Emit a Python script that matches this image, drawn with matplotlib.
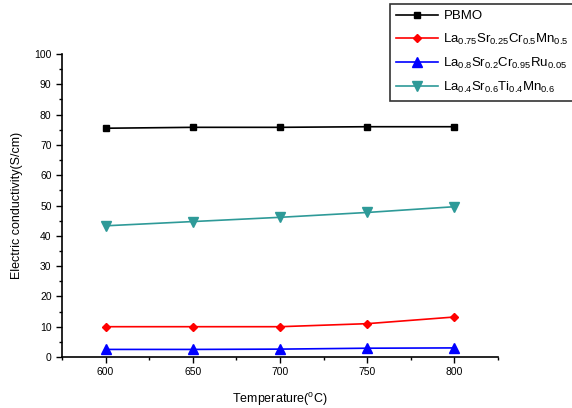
import matplotlib
matplotlib.use("Agg")
import matplotlib.pyplot as plt
from matplotlib.ticker import MultipleLocator

plt.rcParams['font.family'] = ['Liberation Sans', 'DejaVu Sans']
plt.rcParams['mathtext.fontset'] = 'custom'
plt.rcParams['mathtext.rm'] = 'Liberation Sans'
plt.rcParams['mathtext.it'] = 'Liberation Sans'

temperature = [600, 650, 700, 750, 800]
pbmo = [75.5, 75.8, 75.8, 76.0, 76.0]
lscm = [10.0, 10.0, 10.0, 11.0, 13.2]
lscr = [2.5, 2.5, 2.6, 2.9, 3.0]
lstm = [43.3, 44.7, 46.1, 47.7, 49.6]
labels = ['PBMO',
          'La$_{0.75}$Sr$_{0.25}$Cr$_{0.5}$Mn$_{0.5}$',
          'La$_{0.8}$Sr$_{0.2}$Cr$_{0.95}$Ru$_{0.05}$',
          'La$_{0.4}$Sr$_{0.6}$Ti$_{0.4}$Mn$_{0.6}$']

fig = plt.figure(figsize=(5.72, 4.08), dpi=100)
ax = fig.add_axes([62/572, 1-357/408, (498-62)/572, (357-54)/408])

ax.plot(temperature, pbmo, color='black', marker='s', ms=5, lw=1.2, label=labels[0])
ax.plot(temperature, lscm, color='red', marker='D', ms=4.5, lw=1.2, label=labels[1])
ax.plot(temperature, lscr, color='blue', marker='^', ms=6.5, lw=1.2, label=labels[2])
ax.plot(temperature, lstm, color='#2e9a98', marker='v', ms=6.5, lw=1.2, label=labels[3])

ax.set_xlim(575, 825)
ax.set_ylim(0, 100)
ax.xaxis.set_major_locator(MultipleLocator(50))
ax.xaxis.set_minor_locator(MultipleLocator(25))
ax.yaxis.set_major_locator(MultipleLocator(10))
ax.yaxis.set_minor_locator(MultipleLocator(5))
for s in ['top', 'right']:
    ax.spines[s].set_visible(False)
for s in ['left', 'bottom']:
    ax.spines[s].set_linewidth(1.2)
ax.tick_params(which='major', direction='out', length=4, width=1, labelsize=7.5, colors='black')
ax.tick_params(which='minor', direction='out', length=2.5, width=1)
ax.set_xlabel('Temperature($^{\\mathrm{o}}$C)', fontsize=9, labelpad=10)
ax.set_ylabel('Electric conductivity(S/cm)', fontsize=9, labelpad=8)

leg = fig.legend(loc='upper left', bbox_to_anchor=(390/572, 1-4/408), fontsize=9.5,
                 frameon=True, fancybox=False, edgecolor='black', handlelength=3.2,
                 handletextpad=0.4, borderpad=0.45, labelspacing=0.7, borderaxespad=0)
leg.get_frame().set_linewidth(1.2)

fig.savefig('out.png', dpi=100)
